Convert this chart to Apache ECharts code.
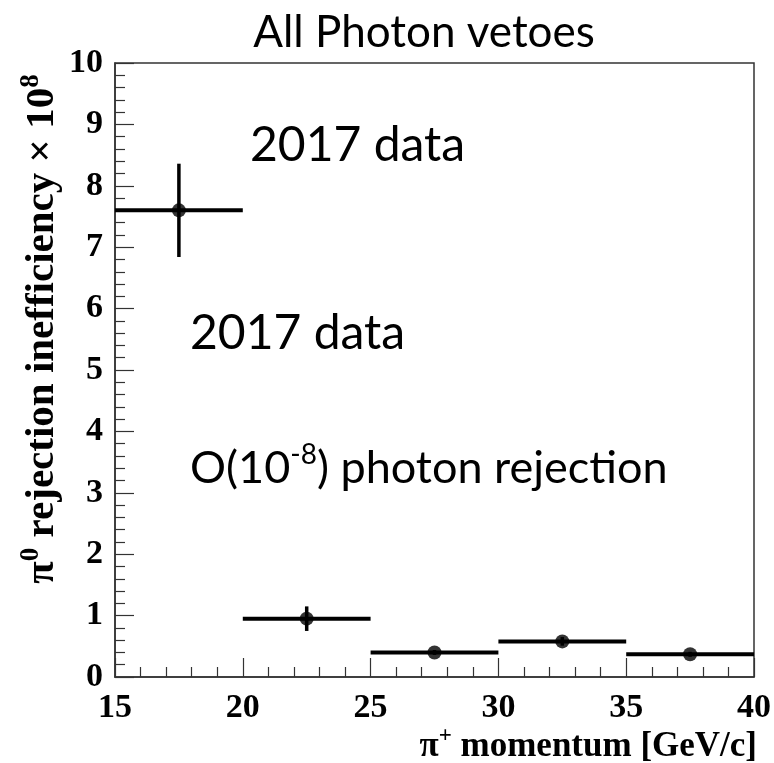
<!DOCTYPE html>
<html>
<head>
<meta charset="utf-8">
<script src="https://cdn.jsdelivr.net/npm/echarts@6/dist/echarts.min.js"></script>
<style>html,body{margin:0;padding:0;background:#fff;}#c{width:774px;height:763px;}</style>
</head>
<body>
<div id="c"></div>
<script>
// ---- data ----
const binLow = [15, 20, 25, 30, 35];
const binHigh = [20, 25, 30, 35, 40];
const ineff = [7.6, 0.95, 0.40, 0.58, 0.37];
const ineffErr = [0.76, 0.20, 0.04, 0.07, 0.04];
const xRange = [15, 40];
const yRange = [0, 10];
const titleText = 'All Photon vetoes';
const annotations = ['2017 data', '2017 data', 'O(10-8) photon rejection'];

const points = binLow.map((l, i) => [(l + binHigh[i]) / 2, ineff[i], ineffErr[i], l, binHigh[i]]);

const chart = echarts.init(document.getElementById('c'), null, {renderer: 'canvas'});
const serif = 'Liberation Serif, Times New Roman, serif';
const sans = 'Lato, Open Sans, sans-serif';
const axisColor = '#333';

const option = {
  animation: false,
  backgroundColor: '#fff',
  grid: {left: 115, right: 17, top: 63, bottom: 86, show: true, borderColor: axisColor, borderWidth: 1.5, backgroundColor: 'transparent'},
  xAxis: {
    type: 'value', min: xRange[0], max: xRange[1], interval: 5,
    axisLine: {show: true, onZero: false, lineStyle: {color: axisColor, width: 1.5}},
    axisTick: {show: true, inside: true, length: 19, lineStyle: {color: axisColor, width: 1.2}},
    minorTick: {show: true, splitNumber: 5, length: 10, lineStyle: {color: axisColor, width: 1.2}},
    splitLine: {show: false},
    axisLabel: {color: '#000', fontFamily: serif, fontWeight: 'bold', fontSize: 34, margin: 14}
  },
  yAxis: {
    type: 'value', min: yRange[0], max: yRange[1], interval: 1,
    axisLine: {show: true, onZero: false, lineStyle: {color: axisColor, width: 1.5}},
    axisTick: {show: true, inside: true, length: 19, lineStyle: {color: axisColor, width: 1.2}},
    minorTick: {show: true, splitNumber: 5, length: 10, lineStyle: {color: axisColor, width: 1.2}},
    splitLine: {show: false},
    axisLabel: {color: '#000', fontFamily: serif, fontWeight: 'bold', fontSize: 34, margin: 12}
  },
  series: [
    {
      type: 'custom',
      data: points,
      encode: {x: [3, 4, 0], y: [1]},
      renderItem: function (params, api) {
        const c = api.value(0), v = api.value(1), e = api.value(2), lo = api.value(3), hi = api.value(4);
        const p1 = api.coord([lo, v]), p2 = api.coord([hi, v]);
        const q1 = api.coord([c, v - e]), q2 = api.coord([c, v + e]);
        return {
          type: 'group',
          children: [
            {type: 'line', shape: {x1: p1[0], y1: p1[1], x2: p2[0], y2: p2[1]}, style: {stroke: '#000', lineWidth: 4}},
            {type: 'line', shape: {x1: q1[0], y1: q1[1], x2: q2[0], y2: q2[1]}, style: {stroke: '#000', lineWidth: 3.5}}
          ]
        };
      },
      z: 2
    },
    {
      type: 'scatter',
      data: points.map(p => [p[0], p[1]]),
      symbol: 'circle', symbolSize: 14,
      itemStyle: {color: '#000'},
      z: 3
    }
  ],
  graphic: [
    {type: 'text', x: 424, y: 33, style: {text: titleText, font: '44px ' + sans, fill: '#000', align: 'center', verticalAlign: 'middle'}, silent: true},
    {type: 'text', x: 250, y: 146, style: {text: annotations[0], font: '48px ' + sans, fill: '#000', verticalAlign: 'middle'}},
    {type: 'text', x: 190, y: 334, style: {text: annotations[1], font: '48px ' + sans, fill: '#000', verticalAlign: 'middle'}},
    {type: 'text', x: 190, y: 463, style: {
      text: '{n|O(10}{s|-8}{n|) photon rejection}',
      verticalAlign: 'middle',
      rich: {
        n: {fontFamily: sans, fontSize: 45, color: '#000', lineHeight: 56, verticalAlign: 'bottom'},
        s: {fontFamily: sans, fontSize: 28, color: '#000', lineHeight: 56, verticalAlign: 'bottom', padding: [0, 0, 22, 0]}
      }
    }},
    {type: 'text', x: 38, y: 329, rotation: Math.PI / 2, style: {
      text: '{n|π}{s|0}{n| rejection inefficiency × 10}{s|8}',
      align: 'center', verticalAlign: 'middle',
      rich: {
        n: {fontFamily: serif, fontWeight: 'bold', fontSize: 41, color: '#000', lineHeight: 50, verticalAlign: 'bottom'},
        s: {fontFamily: serif, fontWeight: 'bold', fontSize: 27, color: '#000', lineHeight: 50, verticalAlign: 'bottom', padding: [0, 0, 18, 0]}
      }
    }},
    {type: 'text', right: 17, top: 725, style: {
      text: '{n|π}{s|+}{n| momentum [GeV/c]}',
      rich: {
        n: {fontFamily: serif, fontWeight: 'bold', fontSize: 35, color: '#000', lineHeight: 42, verticalAlign: 'bottom'},
        s: {fontFamily: serif, fontWeight: 'bold', fontSize: 23, color: '#000', lineHeight: 42, verticalAlign: 'bottom', padding: [0, 0, 16, 0]}
      }
    }}
  ]
};
chart.setOption(option);
</script>
</body>
</html>
